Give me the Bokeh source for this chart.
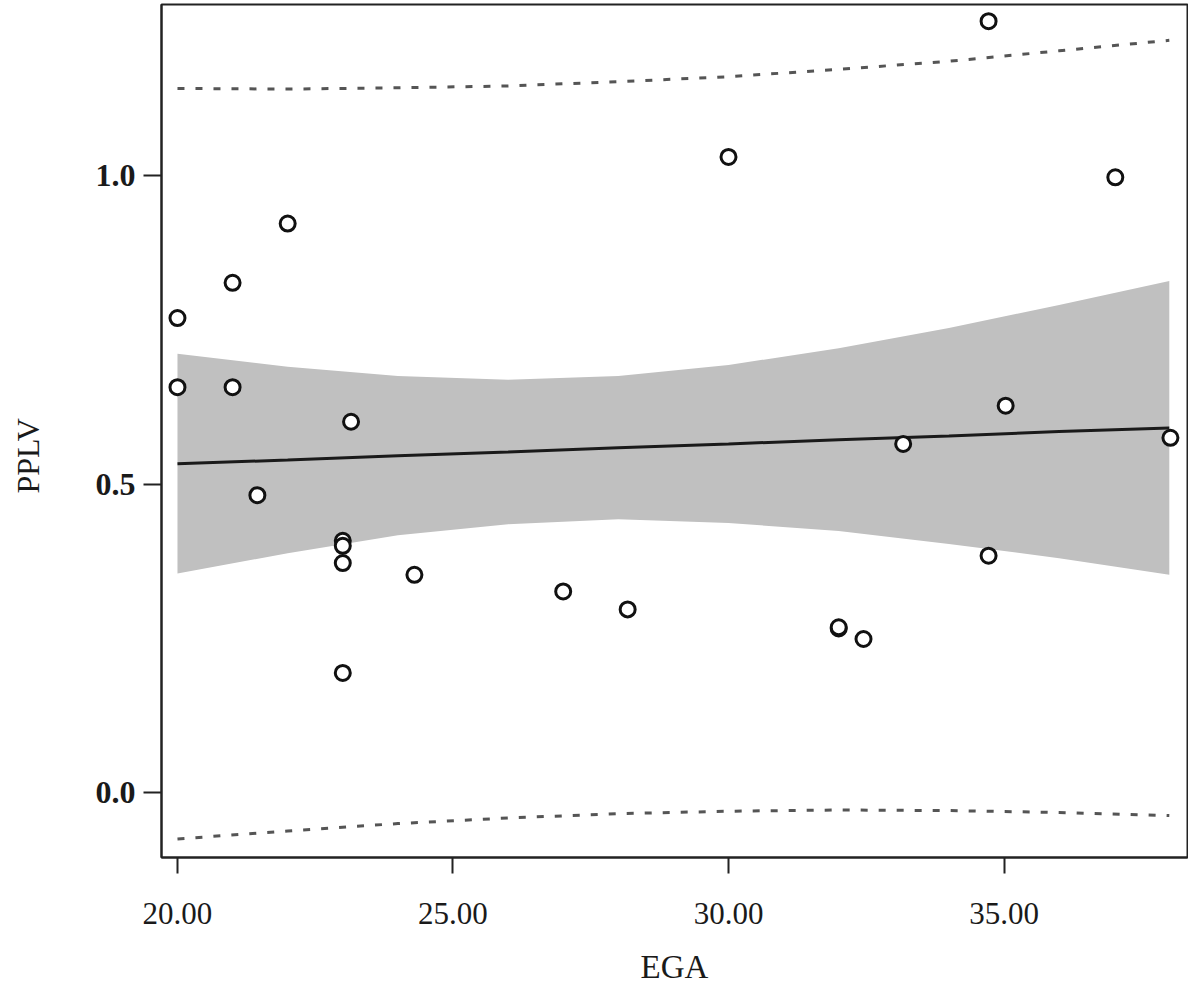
from bokeh.plotting import figure
from bokeh.models import Range1d, FixedTicker, NumeralTickFormatter, Title, LinearAxis
from bokeh.embed import file_html
from bokeh.resources import INLINE

# Observed points (EGA vs PPLV)
ega = [20.0, 20.0, 21.0, 21.0, 22.0, 21.45, 23.15, 23.0, 23.0, 23.0, 23.0,
       24.3, 27.0, 28.17, 30.0, 32.0, 32.0, 32.45, 33.17, 34.72, 34.72,
       35.03, 37.02, 38.02]
pplv = [0.769, 0.657, 0.826, 0.657, 0.922, 0.482, 0.601, 0.408, 0.400, 0.372, 0.194,
        0.353, 0.326, 0.297, 1.030, 0.266, 0.268, 0.249, 0.565, 1.250, 0.384,
        0.627, 0.997, 0.575]

# Fitted line, confidence band and prediction interval
fit_x = [20, 22, 24, 26, 28, 30, 32, 34, 36, 38]
fit_y = [0.533, 0.539, 0.546, 0.552, 0.559, 0.565, 0.572, 0.578, 0.585, 0.591]
ci_upper = [0.711, 0.690, 0.675, 0.669, 0.675, 0.693, 0.720, 0.753, 0.790, 0.829]
ci_lower = [0.355, 0.388, 0.417, 0.435, 0.443, 0.437, 0.424, 0.403, 0.380, 0.353]
pi_upper = [1.141, 1.140, 1.142, 1.145, 1.152, 1.160, 1.172, 1.185, 1.202, 1.219]
pi_lower = [-0.075, -0.062, -0.050, -0.041, -0.034, -0.030, -0.028, -0.029, -0.032, -0.037]

x_ticks = [20, 25, 30, 35]
y_ticks = [0.0, 0.5, 1.0]
x_title = "EGA"
y_title = "PPLV"

p = figure(width=1188, height=989, output_backend="svg", toolbar_location=None,
           x_range=Range1d(19.71, 38.33), y_range=Range1d(-0.105, 1.277),
           min_border_left=161, min_border_right=1, min_border_top=4,
           min_border_bottom=132)

p.varea(x=fit_x, y1=ci_lower, y2=ci_upper, fill_color="#c0c0c0", fill_alpha=1.0)
p.line(fit_x, fit_y, line_color="#1a1a1a", line_width=3)
p.line(fit_x, pi_upper, line_color="#555555", line_width=3, line_dash="7 11")
p.line(fit_x, pi_lower, line_color="#555555", line_width=3, line_dash="7 11")
p.scatter(ega, pplv, marker="circle", size=15, fill_color="white",
          line_color="#111111", line_width=3)

p.xgrid.grid_line_color = None
p.ygrid.grid_line_color = None
p.outline_line_color = "#222222"
p.outline_line_width = 2
p.background_fill_color = "white"
p.border_fill_color = "white"

p.xaxis.ticker = FixedTicker(ticks=x_ticks)
p.yaxis.ticker = FixedTicker(ticks=y_ticks)
p.xaxis.formatter = NumeralTickFormatter(format="0.00")
p.yaxis.formatter = NumeralTickFormatter(format="0.0")

for ax in (p.xaxis[0], p.yaxis[0]):
    ax.axis_line_color = "#222222"
    ax.axis_line_width = 2
    ax.major_tick_line_color = "#222222"
    ax.major_tick_line_width = 2
    ax.major_tick_in = 0
    ax.minor_tick_line_color = None
    ax.major_label_text_font = "Liberation Serif"
    ax.major_label_text_color = "#1a1a1a"

p.xaxis.major_tick_out = 16
p.yaxis.major_tick_out = 18
p.xaxis.major_label_text_font_size = "31px"
p.yaxis.major_label_text_font_size = "32px"
p.yaxis.major_label_text_font_style = "bold"
p.xaxis.major_label_standoff = 29
p.yaxis.major_label_standoff = 8

p.xaxis.axis_label = x_title
p.xaxis.axis_label_text_font = "Liberation Serif"
p.xaxis.axis_label_text_font_style = "normal"
p.xaxis.axis_label_text_font_size = "33px"
p.xaxis.axis_label_text_color = "#1a1a1a"
p.xaxis.axis_label_standoff = 22

# invisible spacer axis so that the y title sits near the left edge
spacer = LinearAxis(ticker=FixedTicker(ticks=[1.2]), axis_line_color=None,
                    major_tick_line_color="white", major_tick_line_width=1,
                    minor_tick_line_color=None,
                    major_tick_in=0, major_tick_out=42,
                    major_label_standoff=0,
                    major_label_overrides={1.2: ""})
p.add_layout(spacer, "left")

ytitle = Title(text=y_title, align="left", offset=364, standoff=10,
               text_font="Liberation Serif", text_font_size="32px",
               text_font_style="normal", text_color="#1a1a1a")
p.add_layout(ytitle, "left")

open("out.html", "w").write(file_html(p, INLINE))
